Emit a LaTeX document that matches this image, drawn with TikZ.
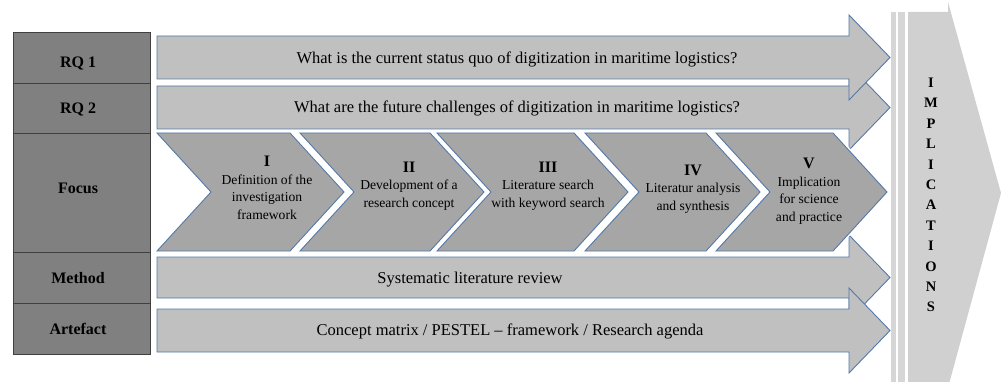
\documentclass[tikz,border=0pt]{standalone}
\usepackage{fontspec}
\setmainfont{Liberation Serif}
\definecolor{colgray}{RGB}{128,128,128}
\definecolor{colline}{RGB}{64,64,64}
\definecolor{arrowfill}{RGB}{192,192,192}
\definecolor{chevfill}{RGB}{166,166,166}
\definecolor{blueline}{RGB}{84,121,168}
\definecolor{implfill}{RGB}{208,208,208}
\definecolor{barfill}{RGB}{214,214,214}
\begin{document}
\begin{tikzpicture}[x=1pt,y=-1pt,
  rowbox/.style={fill=colgray,draw=colline,line width=0.8pt},
  bigarrow/.style={fill=arrowfill,draw=blueline,line width=0.9pt,line join=miter},
  chev/.style={fill=chevfill,draw=blueline,line width=0.9pt,line join=miter},
  rowlabel/.style={font=\bfseries\fontsize{16}{18}\selectfont,inner sep=0pt},
  arrowtext/.style={font=\fontsize{16.5}{18}\selectfont,inner sep=0pt},
  chevtext/.style={font=\fontsize{13.6}{17.5}\selectfont,align=center,inner sep=0pt},
  impltext/.style={font=\bfseries\fontsize{14.5}{20.4}\selectfont,align=center,inner sep=0pt}]
\useasboundingbox (0,0) rectangle (1001,382);
\begin{scope}
\clip (0,0) rectangle (1001,382);
% left column
\draw[rowbox] (13,32) rectangle (150,83);
\draw[rowbox] (13,83) rectangle (150,133);
\draw[rowbox] (13,133) rectangle (150,252);
\draw[rowbox] (13,252) rectangle (150,303);
\draw[rowbox] (13,303) rectangle (150,354);
% big arrows
\draw[bigarrow] (157,86)--(849,86)--(849,65)--(890,107.5)--(849,150)--(849,129)--(157,129)--cycle;
\draw[bigarrow] (157,36)--(849,36)--(849,15)--(890,57.5)--(849,100)--(849,79)--(157,79)--cycle;
\draw[bigarrow] (157,257)--(849,257)--(849,235)--(890,277.5)--(849,320)--(849,298)--(157,298)--cycle;
\draw[bigarrow] (157,309)--(849,309)--(849,288)--(890,330.5)--(849,373)--(849,352)--(157,352)--cycle;
% chevrons
\foreach \tl/\tr in {157/290,300/430,437/574,585/706,716/833}{
  \draw[white,line width=4pt,line join=miter]
    (\tl,133)--(\tr,133)--(\tr+54,192)--(\tr,251)--(\tl,251)--(\tl+54,192)--cycle;
  \draw[chev] (\tl,133)--(\tr,133)--(\tr+54,192)--(\tr,251)--(\tl,251)--(\tl+54,192)--cycle;
}
% implications
\fill[barfill] (891,12) rectangle (895.5,382);
\fill[barfill] (897.5,12) rectangle (905,382);
\fill[implfill] (908,12)--(948,12)--(948,2)--(1001,193)--(949,384)--(908,384)--cycle;
\end{scope}
% labels
\node[rowlabel] (rq1) at (78,64) {RQ 1};
\node[rowlabel] (rq2) at (78,110) {RQ 2};
\node[rowlabel] (focus) at (78,188) {Focus};
\node[rowlabel] (method) at (78,278) {Method};
\node[rowlabel] (artefact) at (78,329) {Artefact};
\node[arrowtext] (q1) at (517,59) {What is the current status quo of digitization in maritime logistics?};
\node[arrowtext] (q2) at (517,108) {What are the future challenges of digitization in maritime logistics?};
\node[arrowtext] (meth) at (470,280) {Systematic literature review};
\node[arrowtext] (art) at (510,331) {Concept matrix / PESTEL -- framework / Research agenda};
\node[chevtext] (c1) at (267,188) {{\bfseries\fontsize{16}{17.5}\selectfont I}\\Definition of the\\investigation\\framework};
\node[chevtext] (c2) at (409,186) {{\bfseries\fontsize{16}{17.5}\selectfont II}\\Development of a\\research concept};
\node[chevtext] (c3) at (548,186) {{\bfseries\fontsize{16}{17.5}\selectfont III}\\Literature search\\with keyword search};
\node[chevtext] (c4) at (693,189) {{\bfseries\fontsize{16}{17.5}\selectfont IV}\\Literatur analysis\\and synthesis};
\node[chevtext] (c5) at (809,191) {{\bfseries\fontsize{16}{17.5}\selectfont V}\\Implication\\for science\\and practice};
\node[impltext] (impl) at (931,195) {I\\M\\P\\L\\I\\C\\A\\T\\I\\O\\N\\S};
\end{tikzpicture}
\end{document}
